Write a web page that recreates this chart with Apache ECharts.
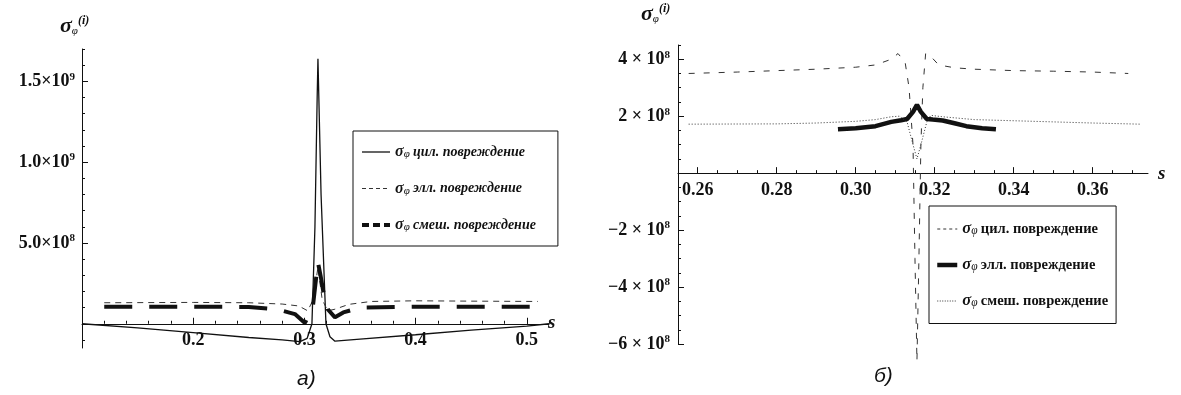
<!DOCTYPE html>
<html>
<head>
<meta charset="utf-8">
<script src="https://cdn.jsdelivr.net/npm/echarts@6/dist/echarts.min.js"></script>
<style>
  html, body { margin: 0; padding: 0; background: #fff; }
  #main { width: 1181px; height: 395px; }
</style>
</head>
<body>
<div id="main"></div>
<script>
// ---- chart a) ----
// цил. повреждение (thin solid)
var sCylA = [0.1, 0.15, 0.2, 0.25, 0.28, 0.296, 0.3025, 0.3068, 0.3095, 0.3115, 0.3122, 0.313, 0.315, 0.3194, 0.323, 0.3275, 0.35, 0.4, 0.45, 0.5, 0.52];
var cylA  = [0, -2.5e7, -5.5e7, -8.5e7, -1.0e8, -1.1e8, -9e7, 0, 6e8, 1.4e9, 1.64e9, 1.4e9, 8e8, 0, -8e7, -1.08e8, -9.5e7, -6.8e7, -4e7, -1.5e7, 0];
// элл. повреждение (thin dashed)
var sEllA = [0.12, 0.2, 0.25, 0.28, 0.295, 0.303, 0.308, 0.3122, 0.316, 0.321, 0.3275, 0.34, 0.36, 0.4, 0.45, 0.51];
var ellA  = [1.3e8, 1.32e8, 1.3e8, 1.22e8, 1.1e8, 0.8e8, 1.5e8, 3.5e8, 1.5e8, 0.8e8, 0.9e8, 1.2e8, 1.38e8, 1.42e8, 1.4e8, 1.38e8];
// смеш. повреждение (thick dashed)
var sMixA = [0.12, 0.2, 0.25, 0.275, 0.2915, 0.3005, 0.3077, 0.3105, 0.3122, 0.3145, 0.3175, 0.321, 0.3275, 0.335, 0.35, 0.4, 0.45, 0.508];
var mixA  = [1.05e8, 1.05e8, 1.04e8, 0.9e8, 0.6e8, 0.05e8, 1.1e8, 2.8e8, 3.8e8, 3.0e8, 1.8e8, 0.9e8, 0.4e8, 0.7e8, 1.0e8, 1.05e8, 1.05e8, 1.05e8];

var xTicksA = [0.2, 0.3, 0.4, 0.5];
var xLabelsA = ['0.2', '0.3', '0.4', '0.5'];
var yTicksA = [5e8, 1e9, 1.5e9];
var yMantA = ['5.0', '1.0', '1.5'];
var yExpA = ['8', '9', '9'];

// ---- chart б) ----
// цил. повреждение (thin dashed)
var sCylB = [0.2577, 0.27, 0.28, 0.29, 0.30, 0.305, 0.309, 0.3107, 0.3125, 0.3135, 0.3145, 0.315, 0.3155, 0.316, 0.3165, 0.317, 0.3177, 0.319, 0.321, 0.325, 0.33, 0.34, 0.35, 0.36, 0.369];
var cylB  = [3.5e8, 3.55e8, 3.6e8, 3.65e8, 3.72e8, 3.8e8, 4.0e8, 4.2e8, 3.9e8, 3.0e8, 1.0e8, -3e8, -6.6e8, -3e8, 1.0e8, 3.0e8, 4.2e8, 4.1e8, 3.8e8, 3.7e8, 3.65e8, 3.6e8, 3.58e8, 3.55e8, 3.5e8];
// элл. повреждение (thick solid)
var sEllB = [0.2955, 0.30, 0.305, 0.309, 0.3115, 0.313, 0.3145, 0.3155, 0.3165, 0.318, 0.3195, 0.322, 0.325, 0.328, 0.332, 0.3355];
var ellB  = [1.54e8, 1.58e8, 1.65e8, 1.8e8, 1.86e8, 1.9e8, 2.15e8, 2.4e8, 2.15e8, 1.9e8, 1.88e8, 1.85e8, 1.75e8, 1.65e8, 1.58e8, 1.54e8];
// смеш. повреждение (dotted)
var sMixB = [0.2577, 0.28, 0.29, 0.30, 0.305, 0.309, 0.311, 0.313, 0.3145, 0.3155, 0.3165, 0.318, 0.319, 0.322, 0.33, 0.34, 0.35, 0.36, 0.372];
var mixB  = [1.72e8, 1.73e8, 1.76e8, 1.82e8, 1.88e8, 1.98e8, 2.0e8, 1.8e8, 1.0e8, 0.5e8, 1.0e8, 1.8e8, 2.03e8, 1.98e8, 1.88e8, 1.84e8, 1.8e8, 1.76e8, 1.72e8];

var xTicksB = [0.26, 0.28, 0.30, 0.32, 0.34, 0.36];
var xLabelsB = ['0.26', '0.28', '0.30', '0.32', '0.34', '0.36'];
var yTicksB = [-6e8, -4e8, -2e8, 2e8, 4e8];
var yMantB = ['\u22126', '\u22124', '\u22122', '2', '4'];
var yExpB = ['8', '8', '8', '8', '8'];

var legendNames = {
    'a-cyl': 'цил. повреждение', 'a-ell': 'элл. повреждение', 'a-mix': 'смеш. повреждение',
    'b-cyl': 'цил. повреждение', 'b-ell': 'элл. повреждение', 'b-mix': 'смеш. повреждение'
};

function pairs(xs, ys) {
    var out = [];
    for (var i = 0; i < xs.length; i++) out.push([xs[i], ys[i]]);
    return out;
}

var serif = 'Liberation Serif';
var ink = '#111';

// pixel frames of the two plots
var frameA = { left: 82, top: 49, width: 467, height: 299, x0: 0.1, x1: 0.52, y0: -1.5e8, y1: 1.7e9 };
var frameB = { left: 678, top: 45, width: 470, height: 299, x0: 0.255, x1: 0.374, y0: -6e8, y1: 4.5e8 };

// sub-grid of a frame covering [xa,xb] x [ya,yb]
function sub(f, xa, xb, ya, yb) {
    var kx = f.width / (f.x1 - f.x0), ky = f.height / (f.y1 - f.y0);
    var l = f.left + (xa - f.x0) * kx, r = f.left + (xb - f.x0) * kx;
    var t = f.top + (f.y1 - yb) * ky, b = f.top + (f.y1 - ya) * ky;
    return { left: l, top: t, width: r - l, height: b - t };
}

function lookup(ticks, v) {
    for (var i = 0; i < ticks.length; i++) {
        if (Math.abs(ticks[i] - v) <= Math.abs(ticks[i]) * 1e-6 + 1e-9) return i;
    }
    return -1;
}

var yRich = {
    m: { fontFamily: serif, fontWeight: 'bold', fontSize: 18, color: ink, lineHeight: 20 },
    e: { fontFamily: serif, fontWeight: 'bold', fontSize: 11, color: ink, verticalAlign: 'top', lineHeight: 20, padding: [0, 0, 7, 0] }
};

var grids = [], xAxes = [], yAxes = [];
function hidden(g, min, max) { return { type: 'value', gridIndex: g, min: min, max: max, show: false }; }
function addGrid(rect, xa, ya) {
    var g = grids.length;
    grids.push(rect);
    xa.gridIndex = g; ya.gridIndex = g;
    xAxes.push(xa); yAxes.push(ya);
    return g;
}
function xTickAxis(min, max, interval, len, showLine, labels) {
    return {
        type: 'value', min: min, max: max, interval: interval, position: 'bottom',
        axisLine: { show: showLine, onZero: false, lineStyle: { color: ink, width: 1 } },
        axisTick: { show: len > 0, inside: true, length: len, lineStyle: { color: ink } },
        axisLabel: labels ? { show: true, margin: 8, fontFamily: serif, fontWeight: 'bold', fontSize: 18, color: ink,
            formatter: labels } : { show: false },
        splitLine: { show: false }
    };
}
function yTickAxis(min, max, interval, len, showLine, labels, margin) {
    return {
        type: 'value', min: min, max: max, interval: interval, position: 'left',
        axisLine: { show: showLine, onZero: false, lineStyle: { color: ink, width: 1 } },
        axisTick: { show: len > 0, inside: true, length: len, lineStyle: { color: ink } },
        axisLabel: labels ? { show: true, margin: margin, rich: yRich, formatter: labels } : { show: false },
        splitLine: { show: false }
    };
}

// chart a) grids
var gA = addGrid(sub(frameA, 0.1, 0.52, -1.5e8, 1.7e9), hidden(0, 0.1, 0.52),
    yTickAxis(-1.5e8, 1.7e9, 1e8, 0, true, null, 0));
addGrid(sub(frameA, 0.1, 0.5, 0, 1.7e9), xTickAxis(0.1, 0.5, 0.1, 6, false, function (v) {
    var i = lookup(xTicksA, v); return i < 0 ? '' : xLabelsA[i];
}), hidden(0, 0, 1));
addGrid(sub(frameA, 0.1, 0.52, 0, 1.7e9), xTickAxis(0.1, 0.52, 0.02, 3, true, null), hidden(0, 0, 1));
addGrid(sub(frameA, 0.1, 0.52, 0, 1.5e9), hidden(0, 0, 1), yTickAxis(0, 1.5e9, 5e8, 6, false, function (v) {
    var i = lookup(yTicksA, v); return i < 0 ? '' : '{m|' + yMantA[i] + '×10}{e|' + yExpA[i] + '}';
}, 7));
addGrid(sub(frameA, 0.1, 0.52, -1e8, 1.7e9), hidden(0, 0, 1), yTickAxis(-1e8, 1.7e9, 1e8, 3, false, null, 0));

// chart б) grids
var gB = addGrid(sub(frameB, 0.255, 0.374, -6e8, 4.5e8), hidden(0, 0.255, 0.374),
    yTickAxis(-6e8, 4.5e8, 0.5e8, 3, true, null, 0));
addGrid(sub(frameB, 0.26, 0.36, 0, 4.5e8), xTickAxis(0.26, 0.36, 0.02, 6, false, function (v) {
    var i = lookup(xTicksB, v); return i < 0 ? '' : xLabelsB[i];
}), hidden(0, 0, 1));
addGrid(sub(frameB, 0.26, 0.37, 0, 4.5e8), xTickAxis(0.26, 0.37, 0.005, 3, false, null), hidden(0, 0, 1));
addGrid(sub(frameB, 0.255, 0.374, 0, 4.5e8), xTickAxis(0.255, 0.374, 0.119, 0, true, null), hidden(0, 0, 1));
addGrid(sub(frameB, 0.255, 0.374, -6e8, 4e8), hidden(0, 0, 1), yTickAxis(-6e8, 4e8, 2e8, 6, false, function (v) {
    var i = lookup(yTicksB, v); return i < 0 ? '' : '{m|' + yMantB[i] + ' × 10}{e|' + yExpB[i] + '}';
}, 8));

function legendRich(size, italic) {
    return {
        g: { fontFamily: serif, fontStyle: 'italic', fontWeight: 'bold', fontSize: size + 2, color: ink, lineHeight: 16 },
        p: { fontFamily: serif, fontStyle: 'italic', fontSize: size - 3, color: ink, verticalAlign: 'bottom', lineHeight: 16, padding: [5, 0, 0, 0] },
        t: { fontFamily: serif, fontStyle: italic ? 'italic' : 'normal', fontWeight: 'bold', fontSize: size, color: ink, lineHeight: 16 }
    };
}
function legendFmt(name) {
    return '{g|σ}{p|φ} {t|' + legendNames[name] + '}';
}
function legendItem(name, width, type) {
    var ls = { width: width };
    if (type) ls.type = type;
    return { name: name, itemStyle: { opacity: 0 }, lineStyle: ls };
}

var axisTitle = {
    g: { fontFamily: serif, fontStyle: 'italic', fontWeight: 'bold', fontSize: 22, fill: ink },
    p: { fontFamily: serif, fontStyle: 'italic', fontSize: 11, fill: ink, verticalAlign: 'bottom', padding: [9, 0, 0, 0] },
    i: { fontFamily: serif, fontStyle: 'italic', fontWeight: 'bold', fontSize: 12, fill: ink, verticalAlign: 'top', padding: [0, 0, 9, 0] }
};

var chart = echarts.init(document.getElementById('main'));

var option = {
    backgroundColor: '#fff',
    animation: false,
    grid: grids,
    xAxis: xAxes,
    yAxis: yAxes,
    legend: [
        {
            orient: 'vertical', left: 353, top: 131, selectedMode: false,
            borderColor: ink, borderWidth: 1, borderRadius: 0,
            padding: [13, 22, 13, 7], itemGap: 20.5, itemWidth: 28, itemHeight: 10,
            itemStyle: { opacity: 0 },
            data: [legendItem('a-cyl', 1.3), legendItem('a-ell', 1, [4, 3]), legendItem('a-mix', 4, [7, 4])],
            formatter: legendFmt,
            textStyle: { rich: legendRich(14, true) }
        },
        {
            orient: 'vertical', left: 929, top: 206, selectedMode: false,
            borderColor: ink, borderWidth: 1, borderRadius: 0,
            padding: [14, 8, 14, 6], itemGap: 18.5, itemWidth: 20, itemHeight: 10,
            itemStyle: { opacity: 0 },
            data: [legendItem('b-cyl', 1, [3, 3]), legendItem('b-ell', 4.5), legendItem('b-mix', 1, [1, 1.5])],
            formatter: legendFmt,
            textStyle: { rich: legendRich(14.5, false) }
        }
    ],
    graphic: [
        { type: 'text', left: 60, top: 15, style: { rich: axisTitle, text: '{g|σ}{p|φ}{i|(i)}' } },
        { type: 'text', left: 641, top: 3, style: { rich: axisTitle, text: '{g|σ}{p|φ}{i|(i)}' } },
        { type: 'text', left: 548, top: 314, style: { text: 's', font: 'italic bold 19px "Liberation Serif"', fill: ink } },
        { type: 'text', left: 1158, top: 165, style: { text: 's', font: 'italic bold 19px "Liberation Serif"', fill: ink } },
        { type: 'text', left: 297, top: 369, style: { text: 'а)', font: 'italic 21px "Liberation Sans"', fill: ink } },
        { type: 'text', left: 874, top: 366, style: { text: 'б)', font: 'italic 21px "Liberation Sans"', fill: ink } }
    ],
    series: [
        { name: 'a-cyl', type: 'line', xAxisIndex: gA, yAxisIndex: gA, showSymbol: false, symbol: 'none',
          lineStyle: { color: ink, width: 1.3, type: 'solid' }, itemStyle: { color: ink }, data: pairs(sCylA, cylA) },
        { name: 'a-ell', type: 'line', xAxisIndex: gA, yAxisIndex: gA, showSymbol: false, symbol: 'none',
          lineStyle: { color: '#333', width: 1, type: [6, 5] }, itemStyle: { color: ink }, data: pairs(sEllA, ellA) },
        { name: 'a-mix', type: 'line', xAxisIndex: gA, yAxisIndex: gA, showSymbol: false, symbol: 'none',
          lineStyle: { color: ink, width: 4, type: [28, 17] }, itemStyle: { color: ink }, data: pairs(sMixA, mixA) },
        { name: 'b-cyl', type: 'line', xAxisIndex: gB, yAxisIndex: gB, showSymbol: false, symbol: 'none', clip: false,
          lineStyle: { color: '#333', width: 1, type: [6, 9] }, itemStyle: { color: ink }, data: pairs(sCylB, cylB) },
        { name: 'b-ell', type: 'line', xAxisIndex: gB, yAxisIndex: gB, showSymbol: false, symbol: 'none',
          lineStyle: { color: ink, width: 4.5, type: 'solid' }, itemStyle: { color: ink }, data: pairs(sEllB, ellB) },
        { name: 'b-mix', type: 'line', xAxisIndex: gB, yAxisIndex: gB, showSymbol: false, symbol: 'none',
          lineStyle: { color: '#333', width: 1, type: [1, 2] }, itemStyle: { color: ink }, data: pairs(sMixB, mixB) }
    ]
};
chart.setOption(option);
</script>
</body>
</html>
